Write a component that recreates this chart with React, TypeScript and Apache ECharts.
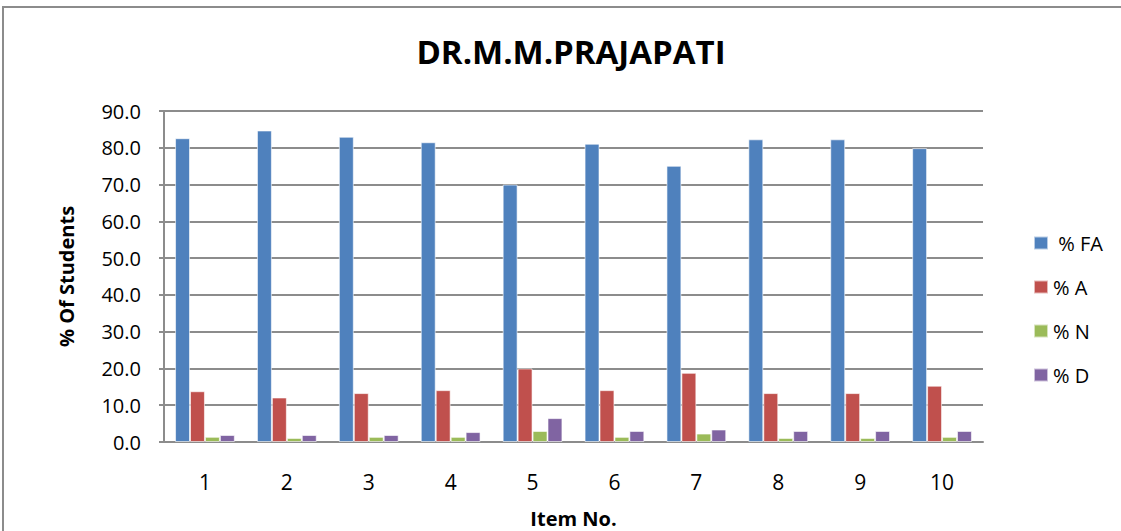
import React, { useEffect, useRef } from "react";
import * as echarts from "echarts";

const categories = ["1", "2", "3", "4", "5", "6", "7", "8", "9", "10"];
const seriesNames = [" % FA", "% A", "% N", "% D"];
const fa = [82.6, 84.7, 83.0, 81.5, 70.0, 81.1, 75.1, 82.3, 82.3, 79.9];
const agree = [13.8, 12.1, 13.3, 14.1, 20.0, 14.1, 18.8, 13.3, 13.3, 15.3];
const neutral = [1.4, 1.1, 1.4, 1.4, 3.0, 1.4, 2.3, 1.1, 1.1, 1.4];
const disagree = [1.9, 1.9, 1.9, 2.7, 6.5, 3.0, 3.4, 3.0, 3.0, 3.0];
const colors = ["#4F81BD", "#C0504D", "#9BBB59", "#8064A2"];

const FONT = "'Open Sans', 'Noto Sans', sans-serif";

export default function App() {
  const ref = useRef<HTMLDivElement>(null);
  useEffect(() => {
    if (!ref.current) return;
    const chart = echarts.init(ref.current, null, { renderer: "svg" });
    const data = [fa, agree, neutral, disagree];
    chart.setOption({
      animation: false,
      backgroundColor: "#ffffff",
      title: {
        text: "DR.M.M.PRAJAPATI",
        left: 566,
        textAlign: "center",
        top: 30,
        textStyle: { fontFamily: FONT, fontWeight: "bold", fontSize: 33, color: "#000" },
      },
      graphic: [
        {
          type: "rect",
          shape: { x: 3, y: 7, width: 1200, height: 600 },
          style: { fill: "none", stroke: "#8c8c8c", lineWidth: 2 },
          silent: true,
        },
      ],
      legend: {
        orient: "vertical",
        left: 1033,
        top: 233,
        padding: 0,
        itemWidth: 14,
        itemHeight: 13,
        itemGap: 24,
        icon: "rect",
        textStyle: { fontFamily: FONT, fontSize: 20, lineHeight: 20, color: "#000" },
        data: seriesNames,
      },
      grid: { left: 164, right: 138, top: 111, bottom: 89, containLabel: false, outerBoundsMode: "none" },
      xAxis: {
        type: "category",
        data: categories,
        name: "Item No.",
        nameLocation: "middle",
        nameGap: 66,
        nameTextStyle: { fontFamily: FONT, fontWeight: "bold", fontSize: 20, color: "#000" },
        axisLine: { lineStyle: { color: "#8c8c8c", width: 2 } },
        axisTick: { show: false },
        axisLabel: { fontFamily: FONT, fontSize: 21, color: "#000", margin: 29 },
      },
      yAxis: {
        type: "value",
        min: 0,
        max: 90,
        interval: 10,
        name: "% Of Students",
        nameLocation: "middle",
        nameGap: 88,
        nameTextStyle: { fontFamily: FONT, fontWeight: "bold", fontSize: 20, color: "#000" },
        axisLine: { show: true, lineStyle: { color: "#8c8c8c", width: 2 } },
        axisTick: { show: true, length: 5, lineStyle: { color: "#8c8c8c", width: 2 } },
        splitLine: { lineStyle: { color: "#8c8c8c", width: 2 } },
        axisLabel: {
          fontFamily: FONT,
          fontSize: 20,
          color: "#000",
          margin: 23,
          formatter: (v: number) => v.toFixed(1),
        },
      },
      series: seriesNames.map((n, i) => ({
        name: n,
        type: "bar",
        data: data[i],
        barGap: "0%",
        barCategoryGap: "27%",
        itemStyle: { color: colors[i], borderColor: "rgba(255,255,255,0.6)", borderWidth: 1 },
      })),
    });
    return () => chart.dispose();
  }, []);
  return (
    <div
      ref={ref}
      style={{ position: "fixed", left: 0, top: 0, width: 1121, height: 531 }}
    />
  );
}
